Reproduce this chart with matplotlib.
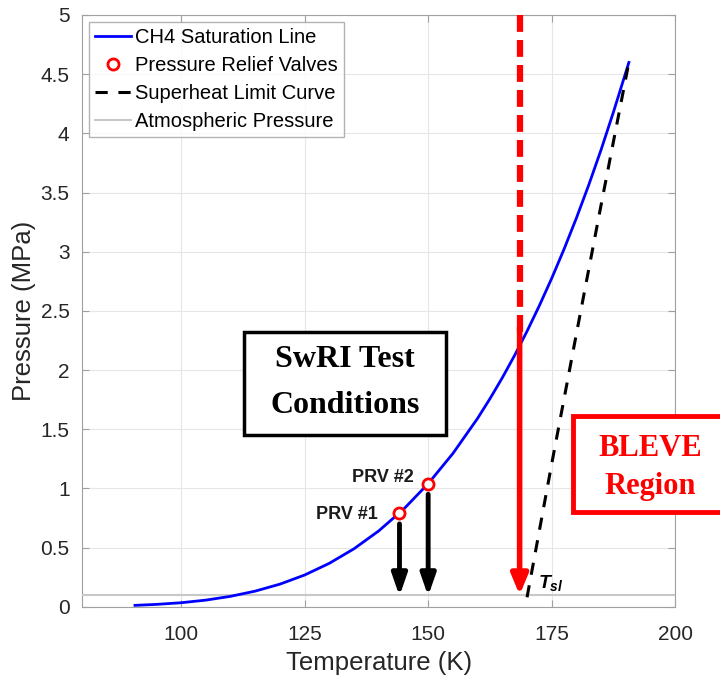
import numpy as np
import matplotlib.pyplot as plt
from matplotlib.patches import Rectangle

# methane saturation line
sat_T = [90.7, 95, 100, 105, 110, 115, 120, 125, 130, 135, 140, 145, 150,
         155, 160, 162.5, 165, 167.5, 170, 172.5, 175, 177.5, 180, 182.5,
         185, 187.5, 190.6]
sat_P = [0.012, 0.020, 0.034, 0.056, 0.088, 0.132, 0.191, 0.268, 0.367, 0.490,
         0.641, 0.823, 1.040, 1.295, 1.592, 1.758, 1.935, 2.125, 2.328, 2.545,
         2.776, 3.023, 3.286, 3.566, 3.864, 4.183, 4.599]

# pressure relief valves
prv_T = [144.2, 150.0]
prv_P = [0.79, 1.04]
prv_names = ['PRV #1', 'PRV #2']

# superheat limit curve
shl_T = [170.0, 175, 180, 185, 190.6]
shl_P = [0.08, 1.21, 2.31, 3.40, 4.60]

p_atm = 0.101
t_bleve = 168.5

plt.rcParams['font.family'] = ['Liberation Sans', 'DejaVu Sans']
plt.rcParams['mathtext.fontset'] = 'custom'
plt.rcParams['mathtext.it'] = 'Liberation Sans:italic:bold'

fig = plt.figure(figsize=(7.2, 6.81), dpi=100)
ax = fig.add_axes([0.114, 0.109, 0.824, 0.869])

ax.plot(sat_T, sat_P, color='#0000ff', lw=2, label='CH4 Saturation Line', zorder=4)
ax.plot(prv_T, prv_P, 'o', mfc='white', mec='red', mew=2, ms=8,
        label='Pressure Relief Valves', zorder=6)
ax.plot(shl_T, shl_P, color='black', lw=2.2, ls=(0, (4, 3.5)),
        label='Superheat Limit Curve', zorder=4)
ax.axhline(p_atm, color='#c8c8c8', lw=1.5, label='Atmospheric Pressure', zorder=3)

# red BLEVE line: dashed above the saturation line, arrow below
ax.plot([t_bleve, t_bleve], [5.0, 2.3], color='red', lw=4.5, ls=(0, (2.7, 1.3)),
        zorder=5, clip_on=False)
ax.annotate('', xy=(t_bleve, 0.1), xytext=(t_bleve, 2.36),
            arrowprops=dict(arrowstyle='-|>,head_width=0.5,head_length=1.2',
                            color='red', lw=4, shrinkA=0, shrinkB=0), zorder=5)

# black arrows from PRVs
for t, p in zip(prv_T, prv_P):
    ax.annotate('', xy=(t, 0.09), xytext=(t, p - 0.09),
                arrowprops=dict(arrowstyle='-|>,head_width=0.45,head_length=1.3',
                                color='black', lw=3.5, shrinkA=0, shrinkB=0),
                zorder=5)

ax.text(prv_T[0] - 4.3, 0.777, prv_names[0], ha='right', va='center',
        fontsize=13, fontweight='bold', color='#1a1a1a')
ax.text(prv_T[1] - 3.0, 1.09, prv_names[1], ha='right', va='center',
        fontsize=13, fontweight='bold', color='#1a1a1a')

ax.text(172.3, 0.2, r'$T_{sl}$', fontsize=14, ha='left', va='center')

# SwRI box
ax.add_patch(Rectangle((112.8, 1.453), 40.9, 0.87, fc='white', ec='black',
                       lw=2.5, zorder=7))
ax.text(133.2, 2.09, 'SwRI Test', ha='center', va='center', fontsize=23,
        fontweight='bold', family='Liberation Serif', zorder=8)
ax.text(133.2, 1.70, 'Conditions', ha='center', va='center', fontsize=23,
        fontweight='bold', family='Liberation Serif', zorder=8)

# BLEVE box
ax.add_patch(Rectangle((179.2, 0.80), 32, 0.813, fc='white', ec='red',
                       lw=3.5, zorder=7, clip_on=False))
ax.text(195.0, 1.335, 'BLEVE', ha='center', va='center', fontsize=22,
        fontweight='bold', family='Liberation Serif', color='red', zorder=8,
        clip_on=False)
ax.text(195.0, 1.015, 'Region', ha='center', va='center', fontsize=22,
        fontweight='bold', family='Liberation Serif', color='red', zorder=8,
        clip_on=False)

ax.set_xlim(80, 200)
ax.set_ylim(0, 5)
ax.set_xticks([100, 125, 150, 175, 200])
ax.set_yticks(np.arange(0, 5.01, 0.5))
ax.set_yticklabels(['%g' % v for v in np.arange(0, 5.01, 0.5)])
ax.grid(True, color='#e6e6e6', lw=0.8)
ax.set_axisbelow(True)
ax.tick_params(direction='in', top=True, right=True, labelsize=15,
               colors='#262626', length=5, color='#a0a0a0')
ax.tick_params(axis='y', pad=9)
ax.tick_params(axis='x', pad=13)
for s in ax.spines.values():
    s.set_color('#a0a0a0')
ax.set_xlabel('Temperature (K)', fontsize=18.5, color='#262626', labelpad=5)
ax.set_ylabel('Pressure (MPa)', fontsize=18.5, color='#262626', labelpad=3)

leg = ax.legend(loc='upper left', fontsize=14.5, frameon=True, fancybox=False,
                edgecolor='#a0a0a0', handlelength=1.8, borderpad=0.3,
                labelspacing=0.45, handletextpad=0.2, borderaxespad=0.35)
leg.get_frame().set_linewidth(1)

fig.savefig('out.png', dpi=100)
